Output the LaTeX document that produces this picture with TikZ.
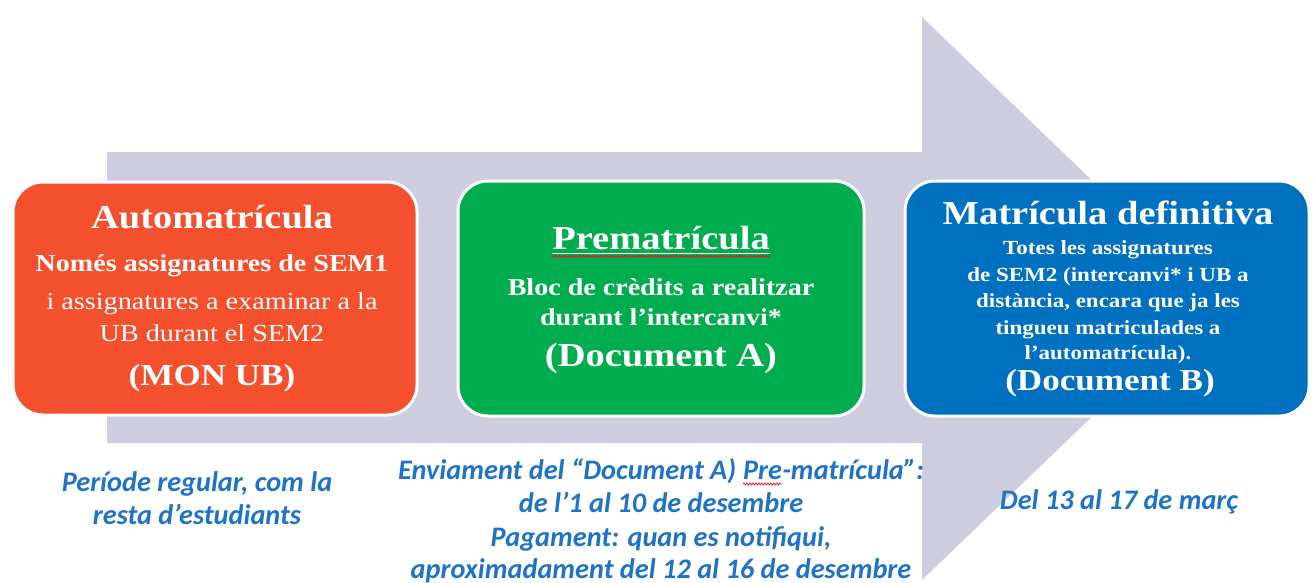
\documentclass[tikz,border=0pt]{standalone}
\usepackage{fontspec}
\setmainfont{Liberation Serif}[FakeStretch=1.15]
\newfontfamily\calib{Carlito}
\usetikzlibrary{decorations.pathmorphing}
\definecolor{arrowgray}{RGB}{206,205,224}
\definecolor{ubred}{RGB}{245,80,46}
\definecolor{ubgreen}{RGB}{0,173,78}
\definecolor{ubblue}{RGB}{0,112,192}
\definecolor{txtblue}{RGB}{30,115,200}
\definecolor{spell}{RGB}{220,30,30}
\newcommand\spellmark[1]{\tikz[baseline=(sw.base)]{\node[inner sep=0pt,outer sep=0pt] (sw) {#1};
  \draw[draw=spell,line width=0.8pt,decorate,decoration={snake,amplitude=1pt,segment length=3pt}] ([yshift=-5pt]sw.base west) -- ([yshift=-5pt]sw.base east);}}
\begin{document}
\begin{tikzpicture}[x=1pt,y=-1pt,
  box/.style={draw=white,line width=3pt,rounded corners=30pt,inner sep=0pt},
  wt/.style={text=white,inner sep=0pt,anchor=center},
  ttl/.style={wt,font=\fontsize{33.5}{36}\selectfont\bfseries},
  sub/.style={wt,font=\fontsize{24.4}{28}\selectfont\bfseries},
  reg/.style={wt,font=\fontsize{24.5}{28}\selectfont},
  bsm/.style={wt,font=\fontsize{20}{24}\selectfont\bfseries},
  note/.style={text=txtblue,inner sep=0pt,anchor=base,font=\calib\fontsize{28.3}{30}\selectfont\bfseries\itshape},
  wavy/.style={draw=spell,line width=0.8pt,decorate,decoration={snake,amplitude=1pt,segment length=3pt}}]
\useasboundingbox (0,0) rectangle (1314,582);
% big arrow
\fill[arrowgray] (107,152) -- (922,152) -- (922,17) -- (1215,298.5) -- (922,580) -- (922,443) -- (107,443) -- cycle;
% boxes
\node[box,fill=ubred,minimum width=404pt,minimum height=233pt] (b1) at (215,298.5) {};
\node[box,fill=ubgreen,minimum width=406pt,minimum height=235pt] (b2) at (661,298.5) {};
\node[box,fill=ubblue,minimum width=404pt,minimum height=235pt] (b3) at (1107,298.5) {};
% box 1
\node[ttl] (a1) at (212,217) {Automatrícula};
\node[sub] (a2) at (212,266) {Només assignatures de SEM1};
\node[reg] (a3) at (212,304) {i assignatures a examinar a la};
\node[reg] (a4) at (212,333) {UB durant el SEM2};
\node[ttl,font=\fontsize{30.5}{34}\selectfont\bfseries] (a5) at (212,378) {(MON UB)};
% box 2
\node[ttl] (p1) at (661,238) {Prematrícula};
\draw[white,line width=1.2pt] ([yshift=-4pt]p1.base west) -- ([yshift=-4pt]p1.base east);
\draw[wavy] ([yshift=-7pt]p1.base west) -- ([yshift=-7pt]p1.base east);
\node[sub] (p2) at (661,287) {Bloc de crèdits a realitzar};
\node[sub] (p3) at (661,317) {durant l’intercanvi*};
\node[ttl] (p4) at (661,358) {(Document A)};
% box 3
\node[ttl] (m1) at (1108,213) {Matrícula definitiva};
\node[bsm] (m2) at (1108,250) {Totes les assignatures};
\node[bsm] (m3) at (1108,277) {de SEM2 (intercanvi* i UB a};
\node[bsm] (m4) at (1108,303) {distància, encara que ja les};
\node[bsm] (m5) at (1108,330) {tingueu matriculades a};
\node[bsm] (m6) at (1108,355) {l’automatrícula).};
\node[ttl,font=\fontsize{30.5}{34}\selectfont\bfseries] (m7) at (1110,383) {(Document B)};
% notes
\node[note] (n1) at (197,491) {Període regular, com la};
\node[note] (n2) at (197,524) {resta d’estudiants};
\node[note] (e1) at (661,479) {Enviament del “Document A) \spellmark{Pre}-matrícula”:};
\node[note] (e2) at (661,512) {de l’1 al 10 de desembre};
\node[note] (e3) at (661,546) {Pagament: quan es notifiqui,};
\node[note] (e4) at (661,578) {aproximadament del 12 al 16 de desembre};
\node[note] (d1) at (1119,509) {Del 13 al 17 de març};
\end{tikzpicture}
\end{document}
